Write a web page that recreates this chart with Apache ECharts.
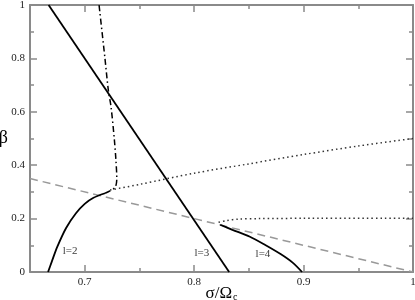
<!DOCTYPE html>
<html>
<head>
<meta charset="utf-8">
<script src="https://cdn.jsdelivr.net/npm/echarts@6/dist/echarts.min.js"></script>
<style>
  html, body { margin: 0; padding: 0; background: #fff; }
  #chart { width: 415px; height: 300px; }
</style>
</head>
<body>
<div id="chart"></div>
<script>
'use strict';
// curve data
var l2X = [0.6665, 0.670, 0.675, 0.683, 0.692, 0.700, 0.708, 0.7186];
var l2Y = [0, 0.04, 0.095, 0.165, 0.22, 0.255, 0.278, 0.295];
var l3X = [0.667, 0.832];
var l3Y = [1, 0];
var l4X = [0.8238, 0.835, 0.851, 0.865, 0.879, 0.89, 0.8986];
var l4Y = [0.177, 0.158, 0.132, 0.101, 0.067, 0.035, 0];
var dashDotX = [0.7186, 0.7235, 0.728, 0.7293, 0.7285, 0.727, 0.724, 0.7216, 0.7185, 0.7131];
var dashDotY = [0.295, 0.305, 0.318, 0.35, 0.42, 0.50, 0.62, 0.68, 0.80, 1.0];
var upperDotX = [0.7232, 0.75, 0.80, 0.85, 0.90, 0.95, 1.0];
var upperDotY = [0.307, 0.328, 0.37, 0.405, 0.44, 0.472, 0.50];
var lowerDotX = [0.8223, 0.83, 0.84, 0.86, 0.90, 1.0];
var lowerDotY = [0.186, 0.193, 0.198, 0.200, 0.201, 0.201];
var dashX = [0.65, 1.0];
var dashY = [0.35, 0.0];
var labelText = ['l=2', 'l=3', 'l=4'];
var labelX = [0.6866, 0.8071, 0.8629];
var labelY = [0.079, 0.07, 0.066];
var xMajor = [0.7, 0.8, 0.9, 1.0];
var xMinor = [0.75, 0.85, 0.95];
var yMajor = [0, 0.2, 0.4, 0.6, 0.8, 1.0];
var yMinor = [0.1, 0.3, 0.5, 0.7, 0.9];

function zip(xs, ys) {
  return xs.map(function (x, i) { return [x, ys[i]]; });
}
function fmt(v) {
  return Math.abs(v - 1) < 1e-9 ? '1' : (Math.abs(v) < 1e-9 ? '0' : String(Math.round(v * 10) / 10));
}

var axisColor = '#8a8a8a';
var serif = 'Liberation Serif';

function xAx(pos, ticks, len, labels, line) {
  return {
    type: 'value', position: pos, min: 0.65, max: 1.0,
    axisLine: { show: line, onZero: false, lineStyle: { color: axisColor, width: 2 } },
    axisTick: { show: true, inside: true, length: len, customValues: ticks, lineStyle: { color: axisColor, width: 1.5 } },
    axisLabel: labels ? { show: true, customValues: ticks, formatter: fmt, color: '#222', fontFamily: serif, fontSize: 11, margin: 5 } : { show: false },
    splitLine: { show: false }
  };
}
function yAx(pos, ticks, len, labels, line) {
  return {
    type: 'value', position: pos, min: 0, max: 1,
    axisLine: { show: line, onZero: false, lineStyle: { color: axisColor, width: 2 } },
    axisTick: { show: true, inside: true, length: len, customValues: ticks, lineStyle: { color: axisColor, width: 1.5 } },
    axisLabel: labels ? { show: true, customValues: ticks, formatter: fmt, color: '#222', fontFamily: serif, fontSize: 11, margin: 5 } : { show: false },
    splitLine: { show: false }
  };
}

var xAxes = [
  xAx('bottom', xMajor, 7, true, true),
  xAx('bottom', xMinor, 4, false, false),
  xAx('top', xMajor, 7, false, true),
  xAx('top', xMinor, 4, false, false)
];
xAxes[0].name = '{a|σ/Ω}{b|c}';
xAxes[0].nameLocation = 'middle';
xAxes[0].nameGap = 15;
xAxes[0].nameMoveOverlap = false;
xAxes[0].nameTextStyle = {
  fontFamily: serif,
  rich: {
    a: { fontFamily: serif, fontSize: 17, color: '#000', lineHeight: 15, verticalAlign: 'bottom' },
    b: { fontFamily: serif, fontSize: 10, color: '#000', lineHeight: 15, verticalAlign: 'bottom', padding: [0, 0, 0, 1] }
  }
};
var yAxes = [
  yAx('left', yMajor, 7, true, true),
  yAx('left', yMinor, 4, false, false),
  yAx('right', yMajor, 7, false, true),
  yAx('right', yMinor, 4, false, false)
];
yAxes[0].name = 'β';
yAxes[0].nameLocation = 'middle';
yAxes[0].nameRotate = 0;
yAxes[0].nameGap = 22;
yAxes[0].nameMoveOverlap = false;
yAxes[0].nameTextStyle = { fontFamily: serif, fontSize: 18, color: '#000' };

function curve(xs, ys, style, smooth) {
  return {
    type: 'line', data: zip(xs, ys), showSymbol: false, smooth: smooth ? 0.3 : false,
    lineStyle: style, silent: true, z: 3
  };
}

var chart = echarts.init(document.getElementById('chart'), null, { renderer: 'canvas' });
chart.setOption({
  animation: false,
  grid: { left: 30, right: 2, top: 5, bottom: 28, containLabel: false, outerBoundsMode: 'none' },
  xAxis: xAxes,
  yAxis: yAxes,
  series: [
    curve(dashX, dashY, { color: '#999', width: 1.5, type: [8, 5] }, false),
    curve(l3X, l3Y, { color: '#000', width: 1.8 }, false),
    curve(l2X, l2Y, { color: '#000', width: 1.8 }, true),
    curve(l4X, l4Y, { color: '#000', width: 1.8 }, true),
    curve(dashDotX, dashDotY, { color: '#000', width: 1.5, type: [6, 3, 1.5, 3] }, true),
    curve(upperDotX, upperDotY, { color: '#333', width: 1.5, type: [1.5, 3] }, true),
    curve(lowerDotX, lowerDotY, { color: '#333', width: 1.5, type: [1.5, 3] }, true),
    {
      type: 'scatter', symbolSize: 0, silent: true,
      data: labelText.map(function (t, i) { return { value: [labelX[i], labelY[i]], name: t }; }),
      label: { show: true, position: 'inside', formatter: '{b}', color: '#000', fontFamily: serif, fontSize: 11 }
    }
  ]
});
</script>
</body>
</html>
